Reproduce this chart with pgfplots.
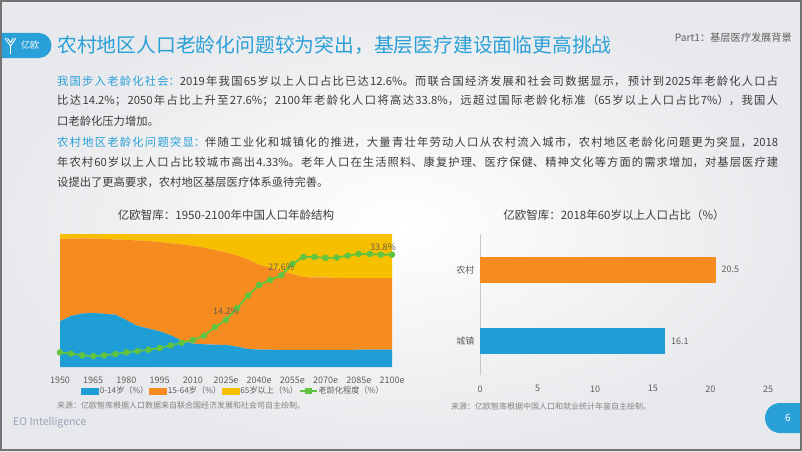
\documentclass[border=0pt]{standalone}
\usepackage{fontspec}
\setmainfont{Noto Sans CJK SC}
\usepackage{pgfplots}
\usepackage{pgfplotstable}
\pgfplotsset{compat=1.18}

\definecolor{cblue}{RGB}{30,157,215}
\definecolor{corange}{RGB}{246,139,32}
\definecolor{cyellow}{RGB}{246,192,0}
\definecolor{cgreen}{RGB}{96,196,64}
\definecolor{tblue}{RGB}{42,160,216}
\definecolor{ttext}{RGB}{60,60,60}
\definecolor{tgray}{RGB}{95,95,95}
\definecolor{lgray}{RGB}{130,130,130}
\definecolor{labcol}{RGB}{105,95,75}
\definecolor{eocol}{RGB}{150,163,182}
\definecolor{bgout}{RGB}{232,233,236}

\pgfplotstableread{
year a b c d
1950 34.4 61.8 3.8 4.4
1955 38.4 58.1 3.5 4.0
1960 40.2 56.5 3.3 3.5
1965 40.7 55.9 3.4 3.3
1970 40.0 56.2 3.8 3.5
1975 39.4 56.6 4.0 3.9
1980 35.2 60.3 4.5 4.4
1985 30.9 64.3 4.8 4.8
1990 28.9 65.8 5.3 5.2
1995 26.9 67.1 6.0 5.7
2000 23.9 69.1 7.0 6.5
2005 19.8 72.4 7.8 7.3
2010 17.6 73.6 8.8 8.1
2015 17.1 72.7 10.2 9.4
2020 16.8 71.1 12.1 12.0
2025 16.6 69.6 13.8 14.2
2030 15.3 68.6 16.1 17.7
2035 13.6 67.1 19.3 21.5
2040 13.1 63.8 23.1 24.7
2045 13.0 61.9 25.1 26.2
2050 12.9 59.5 27.6 27.6
2055 12.9 56.9 30.2 31.0
2060 12.8 54.8 32.4 33.1
2065 12.8 54.5 32.7 33.1
2070 12.8 54.5 32.7 32.8
2075 12.9 54.1 33.0 32.9
2080 12.9 53.9 33.2 33.5
2085 13.0 53.8 33.2 34.0
2090 13.0 53.8 33.2 34.0
2095 13.0 53.8 33.2 33.8
2100 13.0 53.8 33.2 33.8
}\agedata

\pgfplotstableread{
year d lab
2025 14.2 14.2
2050 27.6 27.6
}\labdata

\pgfplotstableread{
year d lab
2100 33.8 33.8
}\labdatab

\newcommand\jline[2]{\node[anchor=west,inner sep=0pt] at (57pt,#1pt) {\parbox{721pt}{\fontsize{11.3}{13}\selectfont\color{ttext}\XeTeXlinebreaklocale "zh"\XeTeXlinebreakskip=0pt plus 1fil\relax\parfillskip=0pt\relax\noindent #2\par}};}
\newcommand\nline[2]{\node[anchor=west,inner sep=0pt,font=\fontsize{11.3}{13}\selectfont,text=ttext] at (57pt,#1pt) {#2};}

\begin{document}
\begin{tikzpicture}
\useasboundingbox (0pt,0pt) rectangle (802pt,451pt);
\shade[inner color=white, outer color=bgout] (0pt,0pt) rectangle (802pt,451pt);

% header tab
\fill[tblue] (0pt,393pt) -- (39pt,393pt) arc[start angle=-90,end angle=90,radius=12.5pt] -- (0pt,418pt) -- cycle;
\draw[white,line width=0.9pt] (5pt,413pt) -- (10.5pt,405pt) -- (16pt,413pt);
\draw[white,line width=0.9pt] (7.5pt,413pt) -- (10.5pt,408.5pt) -- (13.5pt,413pt);
\draw[white,line width=0.9pt] (10.5pt,405pt) -- (10.5pt,397pt);
\node[text=white,font=\fontsize{9}{10}\selectfont,inner sep=0] at (30pt,405.5pt) {亿欧};
\node[anchor=west,inner sep=0,text=tblue,font=\fontsize{19.8}{22}\selectfont] at (57pt,406pt) {农村地区人口老龄化问题较为突出，基层医疗建设面临更高挑战};
\node[anchor=east,inner sep=0,text=tgray,font=\fontsize{10.2}{11}\selectfont] at (792pt,413pt) {Part1：基层医疗发展背景};

% paragraph
\jline{370}{\textcolor{tblue}{我国步入老龄化社会：}2019年我国65岁以上人口占比已达12.6\%。而联合国经济发展和社会司数据显示， 预计到2025年老龄化人口占}
\jline{350}{比达14.2\%；2050年占比上升至27.6\%；2100年老龄化人口将高达33.8\%，远超过国际老龄化标准（65岁以上人口占比7\%），我国人}
\nline{330}{口老龄化压力增加。}
\jline{309}{\textcolor{tblue}{农村地区老龄化问题突显：}伴随工业化和城镇化的推进，大量青壮年劳动人口从农村流入城市，农村地区老龄化问题更为突显，2018}
\jline{289}{年农村60岁以上人口占比较城市高出4.33\%。老年人口在生活照料、康复护理、医疗保健、精神文化等方面的需求增加，对基层医疗建}
\nline{269}{设提出了更高要求，农村地区基层医疗体系亟待完善。}

% chart titles
\node[text=ttext,font=\fontsize{11.5}{13}\selectfont,inner sep=0] at (226pt,236pt) {亿欧智库：1950-2100年中国人口年龄结构};
\node[text=ttext,font=\fontsize{11.5}{13}\selectfont,inner sep=0] at (614pt,236pt) {亿欧智库：2018年60岁以上人口占比（\%）};

% left chart: stacked areas
\begin{axis}[
  at={(60pt,84pt)}, anchor=south west,
  width=332pt, height=133pt, scale only axis,
  xmin=1950, xmax=2100, ymin=0, ymax=100,
  stack plots=y,
  axis line style={draw=none},
  major tick length=0pt,
  ytick=\empty,
  xtick={1950,1965,...,2100},
  xticklabels={1950,1965,1980,1995,2010,2025e,2040e,2055e,2070e,2085e,2100e},
  xticklabel style={font=\fontsize{9}{10}\selectfont, text=tgray, yshift=-6pt},
]
\addplot[fill=cblue, draw=none] table[x=year,y=a]{\agedata} \closedcycle;
\addplot[fill=corange, draw=none] table[x=year,y=b]{\agedata} \closedcycle;
\addplot[fill=cyellow, draw=none] table[x=year,y=c]{\agedata} \closedcycle;
\end{axis}

% left chart: aging line
\begin{axis}[
  at={(60pt,84pt)}, anchor=south west,
  width=332pt, height=133pt, scale only axis,
  xmin=1950, xmax=2100, ymin=0, ymax=40,
  hide axis,
  legend columns=4,
  legend style={at={(0.521,0)}, anchor=center, yshift=-24pt, draw=none, fill=none,
    font=\fontsize{8.2}{10}\selectfont, text=tgray,
    nodes={inner xsep=1pt}},
]
\addlegendimage{legend image code/.code={\fill[cblue] (0pt,-3pt) rectangle (17pt,3pt);}}
\addlegendentry{0-14岁（\%）\hspace{5pt}}
\addlegendimage{legend image code/.code={\fill[corange] (0pt,-3pt) rectangle (17pt,3pt);}}
\addlegendentry{15-64岁（\%）\hspace{5pt}}
\addlegendimage{legend image code/.code={\fill[cyellow] (0pt,-3pt) rectangle (17pt,3pt);}}
\addlegendentry{65岁以上（\%）\hspace{5pt}}
\addplot[cgreen, line width=1.8pt, mark=*, mark size=2.3pt,
  legend image code/.code={\draw[cgreen,line width=1.5pt] (0pt,0pt)--(17pt,0pt); \fill[cgreen] (6pt,-2pt) rectangle (11pt,2pt);}]
  table[x=year,y=d]{\agedata};
\addlegendentry{老龄化程度（\%）}
\addplot[draw=none, mark=none, nodes near coords={\pgfplotspointmeta\%}, point meta=explicit symbolic,
  nodes near coords style={font=\fontsize{9}{10}\selectfont, text=labcol, anchor=south, yshift=1.5pt}]
  table[x=year,y=d,meta=lab]{\labdata};
\addplot[draw=none, mark=none, nodes near coords={\pgfplotspointmeta\%}, point meta=explicit symbolic,
  nodes near coords style={font=\fontsize{9}{10}\selectfont, text=labcol, anchor=south, xshift=-9pt}]
  table[x=year,y=d,meta=lab]{\labdatab};
\end{axis}

\node[anchor=west,inner sep=0,text=lgray,font=\fontsize{8}{9}\selectfont] at (57pt,46pt) {来源：亿欧智库根据人口数据来自联合国经济发展和社会司自主绘制。};

% right chart
\begin{axis}[
  at={(480pt,76pt)}, anchor=south west,
  width=288pt, height=141pt, scale only axis,
  xbar, bar width=26pt, /pgf/bar shift=0pt,
  xmin=0, xmax=25, ymin=-0.48, ymax=1.5,
  axis lines*=left, axis line style={-},
  x axis line style={draw=none},
  y axis line style={draw=black!22},
  major tick length=0pt,
  xtick={0,5,...,25}, ytick={0,1}, yticklabels={城镇,农村},
  /pgf/number format/assume math mode=true,
  xticklabel style={font=\fontsize{9}{10}\selectfont, text=tgray, yshift=-7pt},
  yticklabel style={font=\fontsize{9}{10}\selectfont, text=tgray, xshift=-2pt},
  nodes near coords, point meta=x,
  nodes near coords style={font=\fontsize{9}{10}\selectfont, text=tgray, xshift=2pt},
]
\addplot[fill=corange, draw=none] coordinates {(20.5,1)};
\addplot[fill=cblue, draw=none] coordinates {(16.1,0)};
\end{axis}

\node[anchor=west,inner sep=0,text=lgray,font=\fontsize{8}{9}\selectfont] at (451pt,45pt) {来源：亿欧智库根据中国人口和就业统计年鉴自主绘制。};

% footer
\node[anchor=west,inner sep=0,text=eocol,font=\fontsize{10.5}{12}\selectfont] at (13pt,28pt) {EO Intelligence};
\fill[tblue] (802pt,48pt) -- (780pt,48pt) arc[start angle=90,end angle=270,radius=15pt] -- (802pt,18pt) -- cycle;
\node[text=white,font=\fontsize{10}{11}\selectfont,inner sep=0] at (788pt,33pt) {6};

\draw[line width=2pt, color=black!55] (1pt,1pt) rectangle (801pt,450pt);
\end{tikzpicture}
\end{document}
